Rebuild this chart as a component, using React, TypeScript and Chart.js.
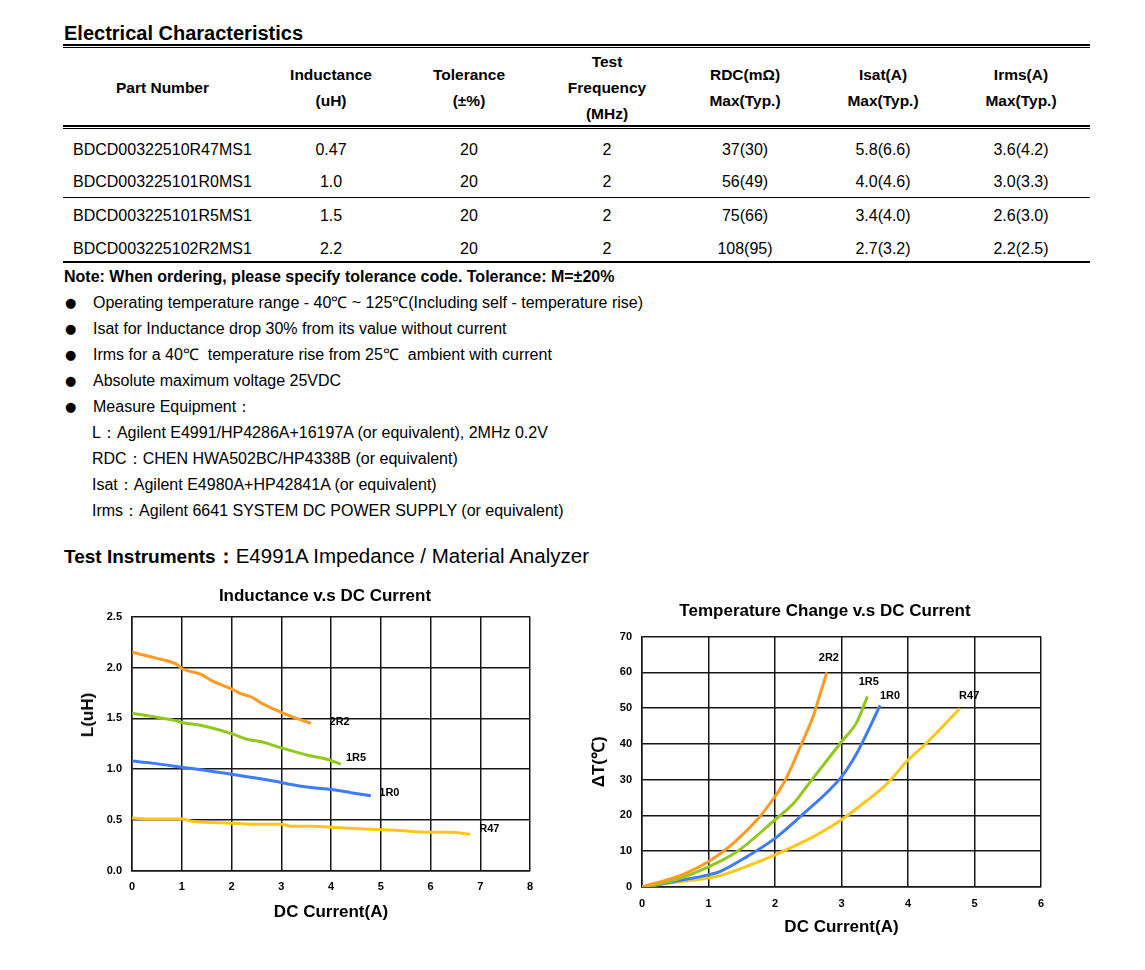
import React, { useEffect, useRef } from 'react';
import { Chart, registerables } from 'chart.js';

Chart.register(...registerables);

const FONT = 'Arial, "Liberation Sans", Helvetica, sans-serif';
Chart.defaults.font.family = FONT;

// ---------- Table data ----------
const tableHeaders = [
  ['Part Number'],
  ['Inductance', '(uH)'],
  ['Tolerance', '(±%)'],
  ['Test', 'Frequency', '(MHz)'],
  ['RDC(mΩ)', 'Max(Typ.)'],
  ['Isat(A)', 'Max(Typ.)'],
  ['Irms(A)', 'Max(Typ.)'],
];
const partNumbers = ['BDCD00322510R47MS1', 'BDCD003225101R0MS1', 'BDCD003225101R5MS1', 'BDCD003225102R2MS1'];
const inductances = ['0.47', '1.0', '1.5', '2.2'];
const tolerances = ['20', '20', '20', '20'];
const testFreqs = ['2', '2', '2', '2'];
const rdcValues = ['37(30)', '56(49)', '75(66)', '108(95)'];
const isatValues = ['5.8(6.6)', '4.0(4.6)', '3.4(4.0)', '2.7(3.2)'];
const irmsValues = ['3.6(4.2)', '3.0(3.3)', '2.6(3.0)', '2.2(2.5)'];

// ---------- Notes ----------
const noteText = 'Note: When ordering, please specify tolerance code. Tolerance: M=±20%';
const bulletItems = [
  'Operating temperature range - 40℃ ~ 125℃(Including self - temperature rise)',
  'Isat for Inductance drop 30% from its value without current',
  'Irms for a 40℃  temperature rise from 25℃  ambient with current',
  'Absolute maximum voltage 25VDC',
  'Measure Equipment：',
];
const equipmentItems = [
  'L：Agilent E4991/HP4286A+16197A (or equivalent), 2MHz 0.2V',
  'RDC：CHEN HWA502BC/HP4338B (or equivalent)',
  'Isat：Agilent E4980A+HP42841A (or equivalent)',
  'Irms：Agilent 6641 SYSTEM DC POWER SUPPLY (or equivalent)',
];

// ---------- Chart 1: Inductance vs DC current ----------
const seriesNames = ['2R2', '1R5', '1R0', 'R47'];
const seriesColors = ['#FF9A22', '#92C81E', '#3F7BF5', '#FFC61A'];

const ind2R2Current = [0, 0.5, 0.9, 1.0, 1.4, 1.6, 2.0, 2.2, 2.4, 2.6, 3.0, 3.2, 3.6];
const ind2R2Value = [2.15, 2.09, 2.03, 1.99, 1.93, 1.87, 1.79, 1.74, 1.71, 1.65, 1.56, 1.52, 1.45];
const ind1R5Current = [0, 0.85, 1.0, 1.4, 2.0, 2.35, 2.6, 3.0, 3.6, 3.9, 4.2];
const ind1R5Value = [1.55, 1.48, 1.46, 1.43, 1.35, 1.29, 1.27, 1.21, 1.13, 1.1, 1.05];
const ind1R0Current = [0, 0.4, 1.0, 2.0, 3.0, 3.2, 3.6, 4.0, 4.4, 4.8];
const ind1R0Value = [1.08, 1.06, 1.02, 0.95, 0.87, 0.85, 0.82, 0.8, 0.77, 0.74];
const indR47Current = [0, 0.4, 1.0, 1.2, 2.0, 2.4, 3.0, 3.2, 3.6, 4.0, 4.8, 5.3, 6.0, 6.4, 6.8];
const indR47Value = [0.52, 0.51, 0.51, 0.49, 0.47, 0.46, 0.46, 0.44, 0.44, 0.43, 0.41, 0.4, 0.38, 0.38, 0.36];

const indXTicks = ['0', '1', '2', '3', '4', '5', '6', '7', '8'];
const indYTicks = ['0.0', '0.5', '1.0', '1.5', '2.0', '2.5'];
const indLabelX = [3.97, 4.3, 4.97, 6.98];
const indLabelY = [1.46, 1.11, 0.77, 0.41];

// ---------- Chart 2: Temperature change vs DC current ----------
const temp2R2Current = [0, 0.6, 1.0, 1.4, 1.75, 2.0, 2.13, 2.25, 2.38, 2.58, 2.65, 2.78];
const temp2R2Rise = [0, 3.4, 7.1, 12.7, 19.2, 25.3, 29, 33.6, 39.2, 48, 52.2, 60];
const temp1R5Current = [0, 0.5, 1.0, 1.43, 2.0, 2.28, 2.53, 3.0, 3.23, 3.39];
const temp1R5Rise = [0, 2, 5.6, 9.9, 18.8, 23.4, 29.4, 40.6, 46.1, 53.3];
const temp1R0Current = [0, 0.5, 1.0, 1.18, 1.58, 2.0, 2.38, 3.0, 3.2, 3.33, 3.58];
const temp1R0Rise = [0, 1.6, 3.4, 4.4, 8.5, 13.6, 19.7, 30.8, 36.4, 41, 50.8];
const tempR47Current = [0, 0.5, 1.0, 1.18, 1.58, 2.0, 2.58, 2.78, 3.0, 3.38, 3.63, 3.76, 4.0, 4.26, 4.78];
const tempR47Rise = [0, 1.3, 2.5, 3.2, 5.8, 9, 14.1, 16.2, 18.8, 24.1, 27.9, 30.4, 35.5, 39.9, 49.9];

const tempXTicks = ['0', '1', '2', '3', '4', '5', '6'];
const tempYTicks = ['0', '10', '20', '30', '40', '50', '60', '70'];
const tempLabelX = [2.81, 3.41, 3.73, 4.92];
const tempLabelY = [63.9, 57.4, 53.5, 53.5];

const zip = (xs: number[], ys: number[]) => xs.map((x, i) => ({ x, y: ys[i] }));

const seriesLabelPlugin = {
  id: 'seriesLabels',
  afterDatasetsDraw(chart: any, _args: any, opts: any) {
    const { ctx } = chart;
    const xs = chart.scales.x;
    const ys = chart.scales.y;
    ctx.save();
    ctx.font = 'bold 11px ' + FONT;
    ctx.fillStyle = '#000';
    ctx.textAlign = opts.align || 'left';
    ctx.textBaseline = 'middle';
    (opts.names || []).forEach((name: string, i: number) => {
      ctx.fillText(name, xs.getPixelForValue(opts.xs[i]), ys.getPixelForValue(opts.ys[i]));
    });
    ctx.restore();
  },
};

const gridOpts = { color: '#161616', lineWidth: 1.5, drawTicks: false };
const borderOpts = { display: true, color: '#161616', width: 1.5 };
const tickFont = { size: 11, weight: 'bold' as const, family: FONT };
const titleFont = { size: 17, weight: 'bold' as const, family: FONT };

function makeDatasets(pairs: { x: number; y: number }[][]) {
  return pairs.map((data, i) => ({
    label: seriesNames[i],
    data,
    borderColor: seriesColors[i],
    backgroundColor: seriesColors[i],
    borderWidth: 3,
    pointRadius: 0,
    fill: false,
    cubicInterpolationMode: 'monotone' as const,
  }));
}

function InductanceChart() {
  const ref = useRef<HTMLCanvasElement>(null);
  useEffect(() => {
    const chart = new Chart(ref.current as HTMLCanvasElement, {
      type: 'line',
      data: {
        datasets: makeDatasets([
          zip(ind2R2Current, ind2R2Value),
          zip(ind1R5Current, ind1R5Value),
          zip(ind1R0Current, ind1R0Value),
          zip(indR47Current, indR47Value),
        ]),
      },
      plugins: [seriesLabelPlugin],
      options: {
        responsive: false,
        animation: false,
        layout: { padding: { top: 10, right: 20, left: 0, bottom: 0 } },
        plugins: {
          legend: { display: false },
          tooltip: { enabled: false },
          seriesLabels: { names: seriesNames, xs: indLabelX, ys: indLabelY, align: 'left' },
        } as any,
        scales: {
          x: {
            type: 'linear',
            min: 0,
            max: 8,
            ticks: { stepSize: 1, padding: 9, font: tickFont, color: '#000', callback: (_v: any, i: number) => indXTicks[i] },
            grid: gridOpts,
            border: borderOpts,
            title: { display: true, text: 'DC Current(A)', font: titleFont, color: '#000', padding: { top: 0, bottom: 2 } },
            afterFit: (s: any) => { s.height = 54; },
          },
          y: {
            type: 'linear',
            min: 0,
            max: 2.5,
            ticks: { stepSize: 0.5, padding: 10, font: tickFont, color: '#000', callback: (_v: any, i: number) => indYTicks[i] },
            grid: gridOpts,
            border: borderOpts,
            afterFit: (s: any) => { s.width = 72; },
          },
        } as any,
      },
    });
    return () => chart.destroy();
  }, []);
  return (
    <canvas
      ref={ref}
      width={490}
      height={325}
      style={{ position: 'absolute', left: 60, top: 600, width: 490, height: 325 }}
    />
  );
}

function TemperatureChart() {
  const ref = useRef<HTMLCanvasElement>(null);
  useEffect(() => {
    const chart = new Chart(ref.current as HTMLCanvasElement, {
      type: 'line',
      data: {
        datasets: makeDatasets([
          zip(temp2R2Current, temp2R2Rise),
          zip(temp1R5Current, temp1R5Rise),
          zip(temp1R0Current, temp1R0Rise),
          zip(tempR47Current, tempR47Rise),
        ]),
      },
      plugins: [seriesLabelPlugin],
      options: {
        responsive: false,
        animation: false,
        layout: { padding: { top: 10, right: 19, left: 0, bottom: 0 } },
        plugins: {
          legend: { display: false },
          tooltip: { enabled: false },
          seriesLabels: { names: seriesNames, xs: tempLabelX, ys: tempLabelY, align: 'center' },
        } as any,
        scales: {
          x: {
            type: 'linear',
            min: 0,
            max: 6,
            ticks: { stepSize: 1, padding: 10, font: tickFont, color: '#000', callback: (_v: any, i: number) => tempXTicks[i] },
            grid: gridOpts,
            border: borderOpts,
            title: { display: true, text: 'DC Current(A)', font: titleFont, color: '#000', padding: { top: 0, bottom: 2 } },
            afterFit: (s: any) => { s.height = 53; },
          },
          y: {
            type: 'linear',
            min: 0,
            max: 70,
            ticks: { stepSize: 10, padding: 10, font: tickFont, color: '#000', callback: (_v: any, i: number) => tempYTicks[i] },
            grid: gridOpts,
            border: borderOpts,
            title: { display: true, text: 'ΔT(℃)', font: titleFont, color: '#000', padding: { top: 9, bottom: 0 } },
            afterFit: (s: any) => { s.width = 62; },
          },
        } as any,
      },
    });
    return () => chart.destroy();
  }, []);
  return (
    <canvas
      ref={ref}
      width={480}
      height={320}
      style={{ position: 'absolute', left: 580, top: 620, width: 480, height: 320 }}
    />
  );
}

type TxtProps = {
  x: number;
  cy: number;
  w?: number;
  size?: number;
  bold?: boolean;
  align?: 'left' | 'center' | 'right';
  lh?: number;
  children: React.ReactNode;
  style?: React.CSSProperties;
};

function Txt({ x, cy, w, size = 16, bold = false, align = 'left', lh = 22, children, style }: TxtProps) {
  return (
    <div
      style={{
        position: 'absolute',
        left: x,
        top: cy - lh / 2,
        width: w,
        fontSize: size,
        fontWeight: bold ? 700 : 400,
        lineHeight: lh + 'px',
        textAlign: align,
        whiteSpace: 'pre',
        ...style,
      }}
    >
      {children}
    </div>
  );
}

const HLine = ({ y, h }: { y: number; h: number }) => (
  <div style={{ position: 'absolute', left: 63, top: y, width: 1027, height: h, background: '#000' }} />
);

const colLefts = [63, 262, 400, 538, 676, 814, 952];
const colWidths = [199, 138, 138, 138, 138, 138, 138];
const rowCenters = [150, 182, 216, 249];

export default function App() {
  const columns = [inductances, tolerances, testFreqs, rdcValues, isatValues, irmsValues];
  return (
    <div
      style={{
        position: 'absolute',
        left: 0,
        top: 0,
        width: 1145,
        height: 970,
        background: '#fff',
        color: '#000',
        fontFamily: FONT,
        overflow: 'hidden',
      }}
    >
      <Txt x={64} cy={33} size={20} bold lh={26}>Electrical Characteristics</Txt>
      <HLine y={44} h={2} />
      <HLine y={47} h={1} />

      {tableHeaders.map((lines, c) =>
        lines.map((t, k) => (
          <Txt
            key={'h' + c + '-' + k}
            x={colLefts[c]}
            w={colWidths[c]}
            cy={88 - ((lines.length - 1) * 26) / 2 + k * 26}
            size={15.5}
            bold
            align="center"
          >
            {t}
          </Txt>
        ))
      )}
      <HLine y={125} h={2} />
      <HLine y={128} h={1} />

      {partNumbers.map((p, r) => (
        <Txt key={'p' + r} x={73} cy={rowCenters[r]} size={16}>{p}</Txt>
      ))}
      {columns.map((col, c) =>
        col.map((v, r) => (
          <Txt key={'d' + c + '-' + r} x={colLefts[c + 1]} w={colWidths[c + 1]} cy={rowCenters[r]} size={16} align="center">
            {v}
          </Txt>
        ))
      )}
      <HLine y={197} h={1} />
      <HLine y={261} h={1.5} />

      <Txt x={64} cy={277} size={16} bold>{noteText}</Txt>
      {bulletItems.map((b, i) => (
        <React.Fragment key={'b' + i}>
          <Txt x={65} cy={303 + i * 26} size={13} style={{ fontFamily: '"DejaVu Sans", sans-serif' }}>●</Txt>
          <Txt x={93} cy={303 + i * 26} size={16}>{b}</Txt>
        </React.Fragment>
      ))}
      {equipmentItems.map((e, i) => (
        <Txt key={'e' + i} x={92} cy={433 + i * 26} size={16}>{e}</Txt>
      ))}

      <Txt x={64} cy={556} size={19} lh={28}>
        <span style={{ fontWeight: 700 }}>Test Instruments</span>
        <span style={{ fontWeight: 700, fontSize: 20 }}>：</span>
        <span style={{ fontSize: 20.5 }}>E4991A Impedance / Material Analyzer</span>
      </Txt>

      <InductanceChart />
      <TemperatureChart />

      <Txt x={125} w={400} cy={596} size={17} bold align="center">Inductance v.s DC Current</Txt>
      <Txt x={625} w={400} cy={611} size={17} bold align="center">Temperature Change v.s DC Current</Txt>
      <div
        style={{
          position: 'absolute',
          left: 88,
          top: 715,
          transform: 'translate(-50%, -50%) rotate(-90deg)',
          fontSize: 17,
          fontWeight: 700,
          whiteSpace: 'nowrap',
          lineHeight: '20px',
        }}
      >
        L(uH)
      </div>
    </div>
  );
}
